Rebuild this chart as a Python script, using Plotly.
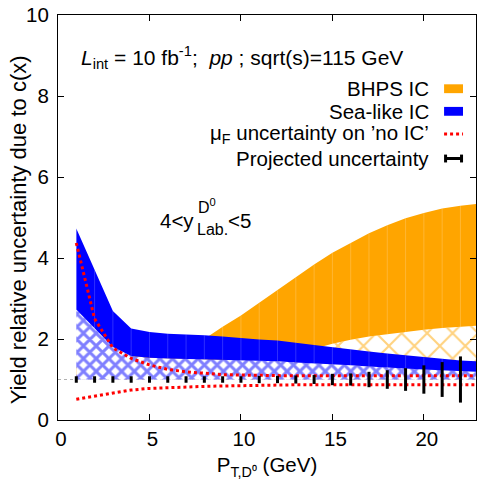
import plotly.graph_objects as go

# ---------------- data ----------------
pt = [1, 2, 3, 4, 5, 6, 7, 8, 9, 10, 11, 12, 13, 14, 15, 16, 17, 18, 19, 20, 21, 22, 23]

bhps_upper = [1.30, 1.40, 1.50, 1.60, 1.70, 1.80, 1.90, 2.00, 2.30, 2.58, 2.88, 3.20, 3.52, 3.84, 4.13, 4.38, 4.61, 4.81, 4.98, 5.11, 5.22, 5.29, 5.34]
bhps_lower = [1.05, 1.10, 1.15, 1.20, 1.25, 1.30, 1.35, 1.40, 1.45, 1.50, 1.56, 1.62, 1.68, 1.76, 1.88, 1.98, 2.06, 2.12, 2.18, 2.23, 2.27, 2.30, 2.33]

sea_upper = [4.73, 3.70, 2.69, 2.26, 2.17, 2.13, 2.11, 2.09, 2.06, 2.03, 1.99, 1.96, 1.91, 1.85, 1.80, 1.74, 1.69, 1.64, 1.59, 1.55, 1.51, 1.47, 1.45]
sea_lower = [2.73, 2.26, 1.80, 1.58, 1.54, 1.52, 1.51, 1.50, 1.49, 1.48, 1.47, 1.45, 1.42, 1.40, 1.37, 1.35, 1.32, 1.29, 1.27, 1.25, 1.23, 1.21, 1.19]

muf_upper = [4.37, 2.50, 1.78, 1.52, 1.36, 1.25, 1.19, 1.15, 1.12, 1.11, 1.10, 1.09, 1.09, 1.09, 1.09, 1.09, 1.09, 1.09, 1.09, 1.09, 1.09, 1.09, 1.09]
muf_lower = [0.51, 0.59, 0.67, 0.74, 0.78, 0.80, 0.82, 0.83, 0.84, 0.85, 0.86, 0.86, 0.87, 0.87, 0.87, 0.87, 0.87, 0.87, 0.87, 0.87, 0.87, 0.87, 0.87]

proj_pt = [1, 2, 3, 4, 5, 6, 7, 8, 9, 10, 11, 12, 13, 14, 15, 16, 17, 18, 19, 20, 21, 22]
proj_center = [1.0] * len(proj_pt)
proj_err = [0.08, 0.08, 0.08, 0.08, 0.08, 0.08, 0.08, 0.08, 0.08, 0.08, 0.09, 0.09, 0.10, 0.11, 0.14, 0.15, 0.19, 0.23, 0.28, 0.35, 0.43, 0.57]

ref_level = 1.0

x_ticks = [0, 5, 10, 15, 20]
y_ticks = [0, 2, 4, 6, 8, 10]

legend_labels = ["BHPS IC", "Sea-like IC", "μ<sub>F</sub> uncertainty on ’no IC’", "Projected uncertainty"]

# ---------------- styling ----------------
FONT = "Liberation Sans, Arial, Helvetica, sans-serif"
FS = 20.5
ORANGE = "#FFA500"
BLUE = "#0000FF"
RED = "#FF0000"

W, H = 480, 488
PL, PR, PT_, PB = 58, 477, 8, 420


def px_x(p):
    return (p - PL) / (PR - PL)


def px_y(p):
    return (PB - p) / (PB - PT_)


def band(xs, lo, hi):
    return list(xs) + list(xs)[::-1], list(lo) + list(hi)[::-1]


base = [ref_level] * len(pt)

fig = go.Figure()

# BHPS hatched part (from reference level to lower bound)
bx, by = band(pt, base, bhps_lower)
fig.add_trace(go.Scatter(x=bx, y=by, fill="toself", mode="lines", line=dict(width=0),
                         fillcolor="rgba(0,0,0,0)",
                         fillpattern=dict(shape="x", fgcolor=ORANGE, bgcolor="white", size=18, solidity=0.22),
                         hoverinfo="skip", showlegend=False))
# BHPS solid part
bx, by = band(pt, bhps_lower, bhps_upper)
fig.add_trace(go.Scatter(x=bx, y=by, fill="toself", mode="lines", line=dict(width=0),
                         fillcolor=ORANGE, hoverinfo="skip", showlegend=False))
# Sea-like hatched part
sx, sy = band(pt, base, sea_lower)
fig.add_trace(go.Scatter(x=sx, y=sy, fill="toself", mode="lines", line=dict(width=0),
                         fillcolor="rgba(0,0,0,0)",
                         fillpattern=dict(shape="x", fgcolor=BLUE, bgcolor="white", size=9, solidity=0.55),
                         hoverinfo="skip", showlegend=False))
# Sea-like solid part
sx, sy = band(pt, sea_lower, sea_upper)
fig.add_trace(go.Scatter(x=sx, y=sy, fill="toself", mode="lines", line=dict(width=0),
                         fillcolor=BLUE, hoverinfo="skip", showlegend=False))

# faint segment seams inside the solid bands
seam_x, seam_y = [], []
for xi, lo, hi in zip(pt, sea_lower, sea_upper):
    seam_x += [xi, xi, None]
    seam_y += [lo, hi, None]
fig.add_trace(go.Scatter(x=seam_x, y=seam_y, mode="lines",
                         line=dict(color="rgba(255,255,255,0.18)", width=1),
                         hoverinfo="skip", showlegend=False))
oseam_x, oseam_y = [], []
for xi, lo, hi, su in zip(pt, bhps_lower, bhps_upper, sea_upper):
    bottom = max(lo, su)
    if hi > bottom:
        oseam_x += [xi, xi, None]
        oseam_y += [bottom, hi, None]
fig.add_trace(go.Scatter(x=oseam_x, y=oseam_y, mode="lines",
                         line=dict(color="rgba(255,255,255,0.2)", width=1),
                         hoverinfo="skip", showlegend=False))

# mu_F uncertainty
for arr in (muf_upper, muf_lower):
    fig.add_trace(go.Scatter(x=pt, y=arr, mode="lines",
                             line=dict(color=RED, width=3, dash="dot"),
                             hoverinfo="skip", showlegend=False))

# projected uncertainty
fig.add_trace(go.Scatter(x=proj_pt, y=proj_center, mode="markers",
                         marker=dict(size=0.1, color="black", opacity=0),
                         error_y=dict(type="data", array=proj_err, visible=True,
                                      color="black", thickness=3, width=0),
                         hoverinfo="skip", showlegend=False))

shapes = []
# reference level line
shapes.append(dict(type="line", xref="paper", yref="y", x0=0, x1=1, y0=ref_level, y1=ref_level,
                   line=dict(color="#B0B0B0", width=1, dash="dot"), layer="below"))

# manual legend (text on the left, sample on the right)
leg_y = [83, 106, 129, 154]
sx0, sx1 = 445, 464
shapes.append(dict(type="rect", xref="paper", yref="paper",
                   x0=px_x(sx0), x1=px_x(sx1), y0=px_y(leg_y[0] + 4.5), y1=px_y(leg_y[0] - 4.5),
                   fillcolor=ORANGE, line=dict(width=0)))
shapes.append(dict(type="rect", xref="paper", yref="paper",
                   x0=px_x(sx0), x1=px_x(sx1), y0=px_y(leg_y[1] + 4.5), y1=px_y(leg_y[1] - 4.5),
                   fillcolor=BLUE, line=dict(width=0)))
shapes.append(dict(type="line", xref="paper", yref="paper",
                   x0=px_x(sx0), x1=px_x(sx1), y0=px_y(leg_y[2]), y1=px_y(leg_y[2]),
                   line=dict(color=RED, width=3, dash="dot")))
shapes.append(dict(type="line", xref="paper", yref="paper",
                   x0=px_x(sx0 + 1), x1=px_x(sx1 - 1), y0=px_y(leg_y[3]), y1=px_y(leg_y[3]),
                   line=dict(color="black", width=3)))
for cx in (sx0 + 1.5, sx1 - 1.5):
    shapes.append(dict(type="line", xref="paper", yref="paper",
                       x0=px_x(cx), x1=px_x(cx), y0=px_y(leg_y[3] - 4), y1=px_y(leg_y[3] + 4),
                       line=dict(color="black", width=3)))

annotations = []
for lab, yy in zip(legend_labels, leg_y):
    annotations.append(dict(text=lab, xref="paper", yref="paper", x=px_x(432), y=px_y(yy),
                            xanchor="right", yanchor="middle", showarrow=False,
                            font=dict(family=FONT, size=FS, color="black")))

annotations.append(dict(text="<i>L</i><sub>int</sub> = 10 fb<sup>-1</sup>;&nbsp; <i>pp</i> ; sqrt(s)=115 GeV",
                        xref="paper", yref="paper", x=px_x(79), y=px_y(51),
                        xanchor="left", yanchor="middle", showarrow=False,
                        font=dict(family=FONT, size=21, color="black")))

# rapidity range label: 4<y^{D0}_{Lab.}<5
annotations.append(dict(text="4&lt;y", xref="paper", yref="paper", x=px_x(196), y=px_y(217),
                        xanchor="right", yanchor="middle", showarrow=False,
                        font=dict(family=FONT, size=FS, color="black")))
annotations.append(dict(text="D<sup>0</sup>", xref="paper", yref="paper", x=px_x(196), y=px_y(202),
                        xanchor="left", yanchor="middle", showarrow=False,
                        font=dict(family=FONT, size=16, color="black")))
annotations.append(dict(text="Lab.", xref="paper", yref="paper", x=px_x(195), y=px_y(226),
                        xanchor="left", yanchor="middle", showarrow=False,
                        font=dict(family=FONT, size=16, color="black")))
annotations.append(dict(text="&lt;5", xref="paper", yref="paper", x=px_x(226), y=px_y(217),
                        xanchor="left", yanchor="middle", showarrow=False,
                        font=dict(family=FONT, size=FS, color="black")))

# y-axis title
annotations.append(dict(text="Yield relative uncertainty due to c(x)", xref="paper", yref="paper",
                        x=px_x(18), y=px_y(227), textangle=-90,
                        xanchor="center", yanchor="middle", showarrow=False,
                        font=dict(family=FONT, size=22, color="black")))

axis_common = dict(showline=True, linecolor="black", linewidth=1, mirror="ticks",
                   ticks="inside", ticklen=6, tickcolor="black", tickwidth=1,
                   showgrid=False, zeroline=False, ticklabeloverflow="allow",
                   tickfont=dict(family=FONT, size=FS, color="black"))

fig.update_layout(
    width=W, height=H,
    margin=dict(l=PL, r=W - PR, t=PT_, b=H - PB),
    paper_bgcolor="white", plot_bgcolor="white",
    xaxis=dict(range=[0, 22.85], tickvals=x_ticks, ticktext=[str(v) for v in x_ticks],
               ticklabelshift=3,
               title=dict(text="P<sub>T,D⁰</sub> (GeV)", font=dict(family=FONT, size=FS, color="black"), standoff=9),
               **axis_common),
    yaxis=dict(range=[0, 10], tickvals=y_ticks, ticktext=[str(v) for v in y_ticks],
               ticklabelstandoff=4,
               **axis_common),
    shapes=shapes, annotations=annotations,
    showlegend=False,
)

fig.write_html("out.html")
